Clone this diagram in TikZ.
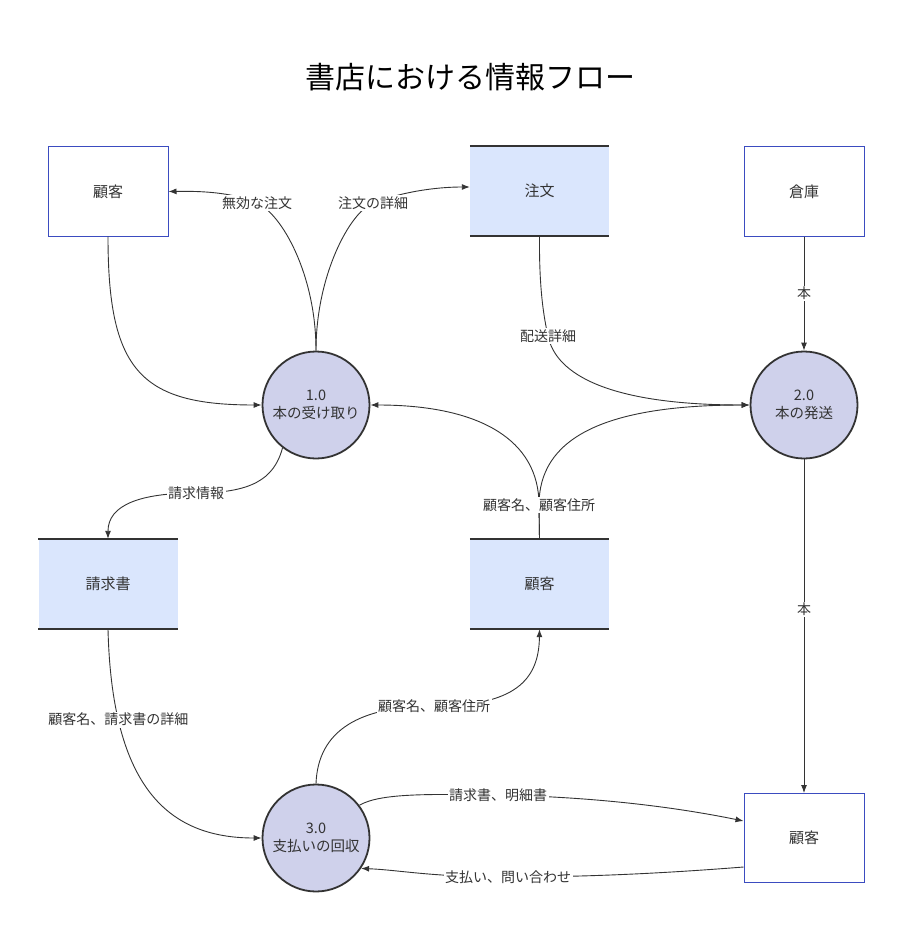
\documentclass[tikz,border=0pt]{standalone}
\usepackage{fontspec}
\setmainfont{Noto Sans CJK JP}
\usetikzlibrary{arrows.meta,calc}
\definecolor{boxblue}{HTML}{3B4CC0}
\definecolor{storefill}{HTML}{DAE6FD}
\definecolor{procfill}{HTML}{CFD1EB}
\definecolor{ink}{HTML}{333333}
\begin{document}
\begin{tikzpicture}[x=1pt,y=-1pt,
 ext/.style={draw=boxblue,line width=1pt,fill=white,minimum width=120pt,minimum height=89pt,font=\fontsize{15}{17}\selectfont,text=ink},
 store/.style={fill=storefill,minimum width=139pt,minimum height=90pt,font=\fontsize{15}{17}\selectfont,text=ink},
 storeline/.style={draw=ink,line width=2pt},
 proc/.style={circle,draw=ink,line width=1.8pt,fill=procfill,minimum size=107pt,inner sep=0pt,align=center,font=\fontsize{14.5}{18}\selectfont,text=ink},
 flow/.style={draw=ink,line width=0.9pt,-{Latex[length=8pt,width=6pt]}},
 lbl/.style={fill=white,inner sep=1.5pt,font=\fontsize{14}{15}\selectfont,text=ink},
]
\useasboundingbox (0,0) rectangle (904,936);
\node[font=\fontsize{30}{34}\selectfont,text=black] (title) at (470,77) {書店における情報フロー};

\node[ext] (b1) at (108,191.5) {顧客};
\node[store] (s1) at (539.5,191) {注文};
\node[ext] (w) at (804,191.5) {倉庫};
\node[proc] (c1) at (316,405) {1.0\\本の受け取り};
\node[proc] (c2) at (804,405) {2.0\\本の発送};
\node[store] (s3) at (108,584) {請求書};
\node[store] (s2) at (539.5,584) {顧客};
\node[proc] (c3) at (316,838) {3.0\\支払いの回収};
\node[ext] (b2) at (804,838) {顧客};
\foreach \n in {s1,s2,s3} \draw[storeline] (\n.north west) -- (\n.north east) (\n.south west) -- (\n.south east);

% edges
\draw[flow] (c1.north) .. controls (316,275) and (282,214) .. (257,203) node[lbl]{無効な注文} .. controls (232,192) and (200,191) .. (b1.east);
\draw[flow] (c1.north) .. controls (316,275) and (350,212) .. (373,203) node[lbl]{注文の詳細} .. controls (396,194) and (430,187) .. ([yshift=4pt]s1.west);
\draw[flow] (b1.south) .. controls (108,370) and (140,405) .. (c1.west);
\draw[flow] (s1.south) .. controls (539,290) and (544,318) .. (548,336) node[lbl]{配送詳細} .. controls (556,375) and (610,405) .. (c2.west);
\draw[flow] (w.south) -- node[lbl]{本} (c2.north);
\draw[flow] (s2.north) -- (539,505) .. controls (539,440) and (480,405) .. (c1.east);
\draw[flow] (s2.north) -- (539,505) node[lbl]{顧客名、顧客住所} .. controls (539,440) and (600,405) .. (c2.west);
\draw[flow] (c1.232) .. controls (274,480) and (250,493) .. (196,493) node[lbl]{請求情報} .. controls (140,493) and (108,505) .. (s3.north);
\draw[flow] (c2.south) -- node[lbl,pos=0.45]{本} (b2.north);
\draw[flow] (s3.south) .. controls (112,790) and (170,838) .. node[lbl,pos=0.22]{顧客名、請求書の詳細} (c3.west);
\draw[flow] (c3.north) .. controls (318,730) and (360,706) .. (434,706) node[lbl]{顧客名、顧客住所} .. controls (515,706) and (539,680) .. (s2.south);
\draw[flow] (c3.37) .. controls (380,793) and (430,794) .. (498,795) node[lbl]{請求書、明細書} .. controls (600,797) and (680,808) .. ([yshift=17pt]b2.west);
\draw[flow] ([yshift=-29pt]b2.west) .. controls (680,872) and (600,877) .. (508,877) node[lbl]{支払い、問い合わせ} .. controls (430,877) and (400,870) .. (c3.-34);
\end{tikzpicture}
\end{document}
